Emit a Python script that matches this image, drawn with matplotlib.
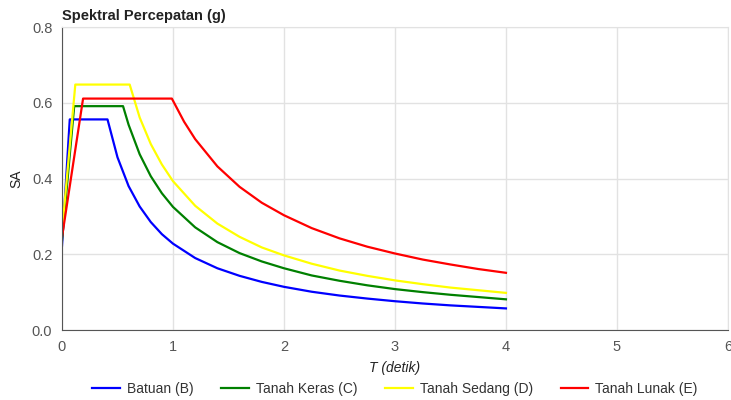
import matplotlib.pyplot as plt
import numpy as np

plt.rcParams['font.family'] = ['Liberation Sans', 'DejaVu Sans']

# periods (detik) and spectral acceleration (g)
t_batuan = [0, 0.07, 0.41, 0.5, 0.6, 0.7, 0.8, 0.9, 1.0, 1.2, 1.4, 1.6, 1.8,
            2.0, 2.25, 2.5, 2.75, 3.0, 3.25, 3.5, 3.75, 4.0]
sa_batuan = [0.222, 0.556, 0.556, 0.456, 0.380, 0.326, 0.285, 0.253, 0.228,
             0.190, 0.163, 0.143, 0.127, 0.114, 0.101, 0.091, 0.083, 0.076,
             0.070, 0.065, 0.061, 0.057]

t_keras = [0, 0.11, 0.55, 0.6, 0.7, 0.8, 0.9, 1.0, 1.2, 1.4, 1.6, 1.8, 2.0,
           2.25, 2.5, 2.75, 3.0, 3.25, 3.5, 3.75, 4.0]
sa_keras = [0.236, 0.591, 0.591, 0.542, 0.464, 0.406, 0.361, 0.325, 0.271,
            0.232, 0.203, 0.181, 0.163, 0.144, 0.130, 0.118, 0.108, 0.100,
            0.093, 0.087, 0.081]

t_sedang = [0, 0.12, 0.61, 0.7, 0.8, 0.9, 1.0, 1.2, 1.4, 1.6, 1.8, 2.0, 2.25,
            2.5, 2.75, 3.0, 3.25, 3.5, 3.75, 4.0]
sa_sedang = [0.259, 0.648, 0.648, 0.561, 0.491, 0.437, 0.393, 0.328, 0.281,
             0.246, 0.218, 0.197, 0.175, 0.157, 0.143, 0.131, 0.121, 0.112,
             0.105, 0.098]

t_lunak = [0, 0.19, 0.99, 1.1, 1.2, 1.4, 1.6, 1.8, 2.0, 2.25, 2.5, 2.75, 3.0,
           3.25, 3.5, 3.75, 4.0]
sa_lunak = [0.245, 0.611, 0.611, 0.550, 0.504, 0.432, 0.378, 0.336, 0.303,
            0.269, 0.242, 0.220, 0.202, 0.186, 0.173, 0.161, 0.151]

labels = ['Batuan (B)', 'Tanah Keras (C)', 'Tanah Sedang (D)', 'Tanah Lunak (E)']
colors = ['#0000ff', '#008000', '#ffff00', '#ff0000']

fig = plt.figure(figsize=(7.31, 4.0), dpi=100)
ax = fig.add_axes([0.0848, 0.175, 0.911, 0.7575])

series = [(t_batuan, sa_batuan), (t_keras, sa_keras),
          (t_sedang, sa_sedang), (t_lunak, sa_lunak)]
for (t, sa), lab, c in zip(series, labels, colors):
    ax.plot(t, sa, color=c, lw=1.6, label=lab)

ax.set_xlim(0, 6)
ax.set_ylim(0, 0.8)
ax.set_xticks(np.arange(0, 7, 1))
ax.set_yticks(np.arange(0, 0.81, 0.2))
ax.set_yticklabels(['0.0', '0.2', '0.4', '0.6', '0.8'])
ax.grid(True, color='#e2e2e2', lw=1)
ax.set_axisbelow(True)
ax.tick_params(length=0, labelsize=10.5, colors='#555555', pad=7)

for s in ['top', 'right']:
    ax.spines[s].set_color('#e2e2e2')
for s in ['left', 'bottom']:
    ax.spines[s].set_color('#555555')

ax.set_xlabel('T (detik)', fontsize=10, style='italic', color='#222222', labelpad=5)
ax.set_ylabel('SA', fontsize=10, color='#222222', labelpad=6)
fig.text(0.0848, 0.942, 'Spektral Percepatan (g)', fontsize=10.5, fontweight='bold',
         color='#222222', ha='left', va='bottom')

fig.legend(loc='center', bbox_to_anchor=(0.54, 0.028), ncol=4, frameon=False,
           fontsize=10, handlelength=2.0, columnspacing=2.0, handletextpad=0.5,
           labelcolor='#333333')

plt.savefig('out.png', dpi=100)
